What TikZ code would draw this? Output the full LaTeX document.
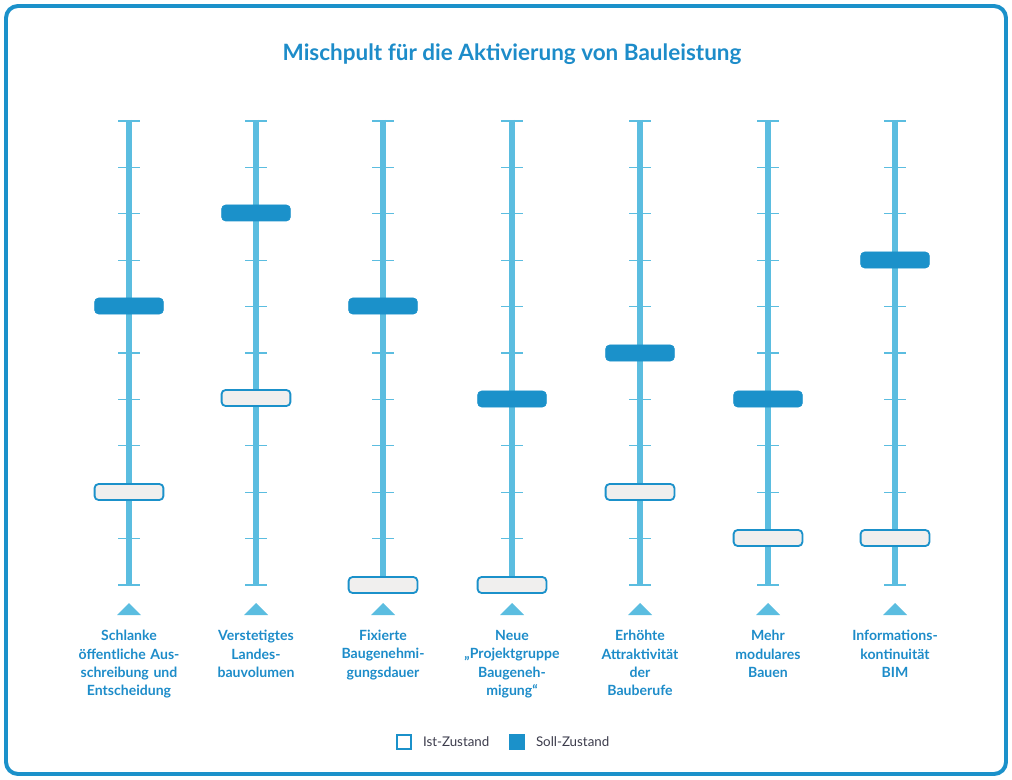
\documentclass[tikz,border=0pt]{standalone}
\usepackage{fontspec}
\setmainfont{Lato}
\usetikzlibrary{positioning}

\definecolor{trackblue}{HTML}{5BBDE0}
\definecolor{knobblue}{HTML}{1B91CA}
\definecolor{titleblue}{HTML}{1D8CC9}
\definecolor{knobgrey}{HTML}{F0EFEE}
\definecolor{legendgrey}{HTML}{3C3C4C}

\tikzset{
    track/.style={trackblue, line width=4.2pt},
    tick/.style={trackblue, line width=0.8pt},
    sollknob/.style={fill=knobblue, draw=knobblue, rounded corners=0.1cm,
        minimum width=1.72cm, minimum height=0.4cm, inner sep=0pt},
    istknob/.style={fill=knobgrey, draw=knobblue, line width=1.3pt, rounded corners=0.1cm,
        minimum width=1.72cm, minimum height=0.4cm, inner sep=0pt},
    label/.style={text=titleblue, font=\bfseries\fontsize{10}{13}\selectfont,
        align=center, text width=3cm, inner sep=0pt, anchor=north},
    legbox/.style={draw=knobblue, line width=1.3pt, minimum size=0.33cm, inner sep=0pt},
    legtext/.style={text=legendgrey, font=\fontsize{9.5}{11}\selectfont, inner sep=0pt}
}

\begin{document}
\begin{tikzpicture}[x=0.025cm, y=-0.025cm]

    % frame
    \useasboundingbox (0,0) rectangle (1012,780);
    \draw[knobblue, line width=2.8pt, rounded corners=0.3cm] (6,6) rectangle (1006,774);

    % title
    \node[text=titleblue, font=\bfseries\fontsize{16}{19}\selectfont] (title) at (512,54)
        {Mischpult für die Aktivierung von Bauleistung};

    % sliders: number / x / soll / ist / label
    \foreach \i/\x/\soll/\ist/\txt in {
        1/129/306/492/{Schlanke\\öffentliche Aus-\\schreibung und\\Entscheidung},
        2/256/213/398/{Verstetigtes\\Landes-\\bauvolumen},
        3/383/306/585/{Fixierte\\Baugenehmi-\\gungsdauer},
        4/512/399/585/{Neue\\„Projektgruppe\\Baugeneh-\\migung“},
        5/640/353/492/{Erhöhte\\Attraktivität\\der\\Bauberufe},
        6/768/399/538/{Mehr\\modulares\\Bauen},
        7/895/260/538/{Informations-\\kontinuität\\BIM}} {
        \draw[track] (\x,120) -- (\x,586);
        \foreach \t in {0,...,10}
            \draw[tick] (\x-11,121+46.4*\t) -- ++(22,0);
        \node[sollknob] (soll\i) at (\x,\soll) {};
        \node[istknob] (ist\i) at (\x,\ist) {};
        \fill[trackblue] (\x-12,615) -- (\x,603) -- (\x+12,615) -- cycle;
        \node[label] (label\i) at (\x,630) {\txt};
    }

    % legend
    \node[legbox] (istbox) at (404,742) {};
    \node[legtext, right=0.28cm of istbox] (isttext) {Ist-Zustand};
    \node[legbox, fill=knobblue] (sollbox) at (517,742) {};
    \node[legtext, right=0.28cm of sollbox] (solltext) {Soll-Zustand};

\end{tikzpicture}
\end{document}
